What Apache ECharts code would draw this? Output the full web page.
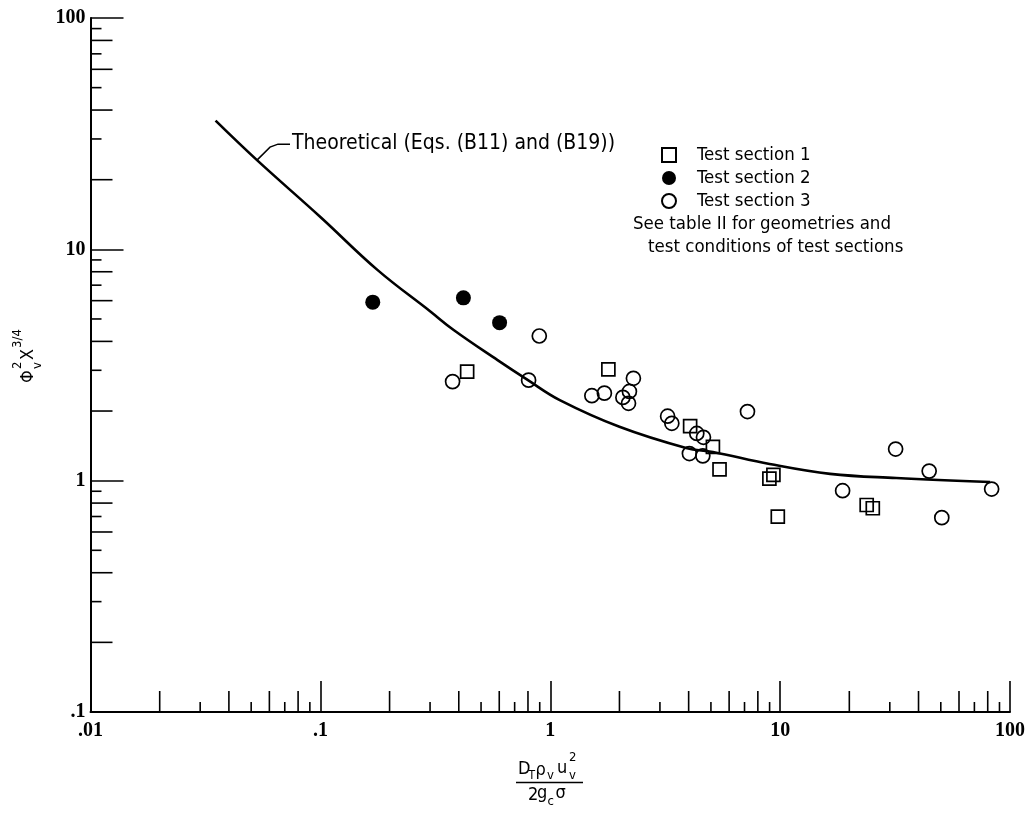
<!DOCTYPE html>
<html>
<head>
<meta charset="utf-8">
<script src="https://cdn.jsdelivr.net/npm/echarts@6/dist/echarts.min.js"></script>
<style>html,body{margin:0;padding:0;background:#fff}#c{width:1028px;height:813px}</style>
</head>
<body>
<div id="c"></div>
<script>
// ---- data ----
const curveX = [0.035, 0.053, 0.1, 0.177, 0.3, 0.38, 0.59, 0.8, 1.1, 2.0, 3.9, 5.1, 9.0, 16.5, 32, 82];
const curveY = [36, 24.3, 13.8, 8.15, 5.4, 4.48, 3.32, 2.72, 2.23, 1.71, 1.385, 1.33, 1.18, 1.07, 1.027, 0.987];

const sec1X = [0.435, 1.79, 4.06, 5.10, 5.45, 8.98, 9.35, 9.77, 23.8, 25.3];
const sec1Y = [2.96, 3.03, 1.72, 1.40, 1.12, 1.02, 1.06, 0.699, 0.785, 0.760];

const sec2X = [0.169, 0.419, 0.602];
const sec2Y = [5.91, 6.17, 4.82];

const sec3X = [0.376, 0.805, 0.896, 1.517, 1.72, 2.07, 2.19, 2.21, 2.30, 3.24, 3.38, 4.03, 4.34, 4.61, 4.64, 7.21, 18.7, 31.8, 44.5, 50.5, 83.2];
const sec3Y = [2.68, 2.72, 4.22, 2.33, 2.39, 2.29, 2.16, 2.43, 2.77, 1.90, 1.77, 1.31, 1.60, 1.28, 1.54, 1.99, 0.905, 1.37, 1.10, 0.692, 0.92];

const xDecades = [0.01, 0.1, 1, 10, 100];
const xTickLabels = ['.01', '.1', '1', '10', '100'];
const yDecades = [0.1, 1, 10, 100];
const yTickLabels = ['.1', '1', '10', '100'];
const minorMantissas = [2, 3, 4, 5, 6, 7, 8, 9];

const seriesNames = ['Test section 1', 'Test section 2', 'Test section 3'];
const curveLabel = 'Theoretical (Eqs. (B11) and (B19))';
const noteLines = ['See table II for geometries and', 'test conditions of test sections'];

// ---- build ----
const pairs = (xs, ys) => xs.map((x, i) => [x, ys[i]]);
const minorVals = decs => {
  const out = [];
  decs.slice(0, -1).forEach(d => minorMantissas.forEach(m => out.push(+(m * d).toPrecision(3))));
  return out;
};
const xMinor = minorVals(xDecades).map(v => [v, yDecades[0]]);
const yMinor = minorVals(yDecades).map(v => [xDecades[0], v]);

const labelFor = (decs, labels) => v => {
  let best = 0;
  decs.forEach((d, i) => { if (Math.abs(Math.log10(v) - Math.log10(d)) < Math.abs(Math.log10(v) - Math.log10(decs[best]))) best = i; });
  return labels[best];
};
const mantLen = v => {
  const m = Math.round(v / Math.pow(10, Math.floor(Math.log10(v) + 1e-9)));
  return m % 2 === 0 ? 21 : 10;
};

const SANS = "'Liberation Sans Narrow', 'DejaVu Sans Condensed', 'Noto Sans', sans-serif";
const SERIF = "'Liberation Serif', 'DejaVu Serif', serif";

const chart = echarts.init(document.getElementById('c'), null, { renderer: 'canvas' });

const t = (x, y, s, size, extra) => Object.assign({
  type: 'text', x: x, y: y,
  style: { text: s, fill: '#000', font: size + 'px ' + SANS, textAlign: 'left', textVerticalAlign: 'middle' }
}, extra || {});

const graphics = [
  t(292, 144, curveLabel, 21),
  t(633, 224, noteLines[0], 18.5),
  t(648, 247, noteLines[1], 18.5),
  // x-axis title (fraction)
  t(518, 769, 'D', 18), t(528.5, 776, 'T', 12), t(535.5, 770, 'ρ', 18), t(547, 776, 'v', 13),
  t(557, 768, 'u', 18), t(569, 758, '2', 13), t(569, 776, 'v', 13),
  { type: 'line', shape: { x1: 516, y1: 782.5, x2: 583, y2: 782.5 }, style: { stroke: '#000', lineWidth: 1.5 } },
  t(528, 795, '2', 18), t(537, 793, 'g', 18), t(547.5, 802, 'c', 13), t(555.5, 793, 'σ', 18),
  // y-axis title (rotated)
  {
    type: 'group', x: 28, y: 383, rotation: Math.PI / 2,
    children: [
      t(0, 0, 'Φ', 18), t(14, -10, '2', 13), t(14, 10, 'v', 13),
      t(23, 0, 'X', 18), t(35, -10, '3/4', 13)
    ]
  }
];

const option = {
  animation: false,
  backgroundColor: '#fff',
  grid: { left: 90.5, right: 17, top: 18, bottom: 101, containLabel: false },
  legend: {
    data: seriesNames, orient: 'vertical', left: 656, top: 140,
    itemWidth: 14, itemHeight: 14, itemGap: 3, selectedMode: false,
    textStyle: { fontFamily: SANS, fontSize: 18.5, color: '#000', lineHeight: 20, padding: [0, 0, 0, 16] }
  },
  xAxis: {
    type: 'log', logBase: 10, min: 0.01, max: 100, splitNumber: 4,
    axisLine: { show: true, onZero: false, lineStyle: { color: '#000', width: 2 } },
    axisTick: { show: true, inside: true, length: 31, lineStyle: { color: '#000', width: 1.6 } },
    minorTick: { show: false }, splitLine: { show: false },
    axisLabel: { margin: 9, color: '#000', fontFamily: SERIF, fontWeight: 'bold', fontSize: 20, formatter: labelFor(xDecades, xTickLabels) }
  },
  yAxis: {
    type: 'log', logBase: 10, min: 0.1, max: 100, splitNumber: 3,
    axisLine: { show: true, onZero: false, lineStyle: { color: '#000', width: 2 } },
    axisTick: { show: true, inside: true, length: 33, lineStyle: { color: '#000', width: 1.6 } },
    minorTick: { show: false }, splitLine: { show: false },
    axisLabel: { margin: 5, color: '#000', fontFamily: SERIF, fontWeight: 'bold', fontSize: 20, formatter: labelFor(yDecades, yTickLabels) }
  },
  series: [
    {
      type: 'line', name: 'Theoretical', data: pairs(curveX, curveY), smooth: 0.4, showSymbol: false,
      lineStyle: { color: '#000', width: 2.6 }, z: 2, silent: true
    },
    {
      type: 'scatter', name: seriesNames[0], data: pairs(sec1X, sec1Y), symbol: 'rect', symbolSize: 13,
      itemStyle: { color: 'rgba(255,255,255,0)', borderColor: '#000', borderWidth: 1.7, opacity: 1 }, z: 3
    },
    {
      type: 'scatter', name: seriesNames[1], data: pairs(sec2X, sec2Y), symbol: 'circle', symbolSize: 15,
      itemStyle: { color: '#000', borderColor: '#000', borderWidth: 0, opacity: 1 }, z: 3
    },
    {
      type: 'scatter', name: seriesNames[2], data: pairs(sec3X, sec3Y), symbol: 'circle', symbolSize: 14,
      itemStyle: { color: 'rgba(255,255,255,0)', borderColor: '#000', borderWidth: 1.7, opacity: 1 }, z: 3
    },
    {
      type: 'custom', name: 'xMinor', data: xMinor, clip: false, silent: true, z: 4,
      renderItem: (params, api) => {
        const v = api.value(0);
        const p = api.coord([v, api.value(1)]);
        return { type: 'line', shape: { x1: p[0], y1: p[1], x2: p[0], y2: p[1] - mantLen(v) }, style: { stroke: '#000', lineWidth: 1.6 } };
      }
    },
    {
      type: 'custom', name: 'yMinor', data: yMinor, clip: false, silent: true, z: 4,
      renderItem: (params, api) => {
        const v = api.value(1);
        const p = api.coord([api.value(0), v]);
        return { type: 'line', shape: { x1: p[0], y1: p[1], x2: p[0] + mantLen(v) + 1, y2: p[1] }, style: { stroke: '#000', lineWidth: 1.6 } };
      }
    }
  ],
  graphic: graphics
};
chart.setOption(option);

// leader line from the curve to its label, anchored on a curve point
const a = chart.convertToPixel({ gridIndex: 0 }, [curveX[1], curveY[1]]);
chart.setOption({
  graphic: graphics.concat([{
    type: 'polyline', shape: { points: [[a[0], a[1]], [a[0] + 13, a[1] - 13], [a[0] + 21, a[1] - 16], [a[0] + 33, a[1] - 16]] },
    style: { stroke: '#000', lineWidth: 1.5, fill: null }
  }])
});
</script>
</body>
</html>
